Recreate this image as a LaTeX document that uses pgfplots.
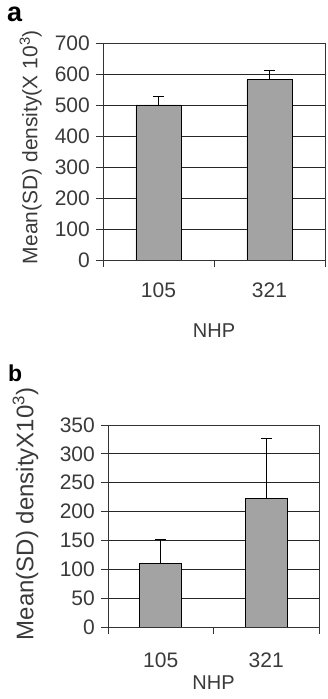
\documentclass[border=0pt]{standalone}
\usepackage{fontspec}
\setmainfont{Liberation Sans}
\usepackage{pgfplots}
\pgfplotsset{compat=1.18}
\definecolor{barfill}{HTML}{A3A3A3}
\definecolor{txt}{HTML}{3A3A3A}
\pgfplotsset{
  excelbar/.style={
    scale only axis,
    anchor=south west,
    xmin=0.5, xmax=2.5,
    xtick={0.5,1.5,2.5}, xticklabels={},
    extra x ticks={1,2}, extra x tick labels={105,321},
    extra x tick style={major tick length=0pt},
    tick align=outside,
    xtick pos=left, ytick pos=left,
    major tick length=7pt,
    ymajorgrids,
    grid style={black!85, line width=0.8pt},
    axis line style={black!80, line width=0.8pt},
    tick style={black!80, line width=0.8pt},
    ticklabel style={font=\fontsize{21}{21}\selectfont, text=txt},
    yticklabel style={inner sep=0pt, xshift=-6pt},
    xticklabel style={inner sep=0pt},
    /pgf/number format/assume math mode=true,
    label style={text=txt},
  },
  barplot/.style={ybar, bar shift=0pt, fill=barfill, draw=black, line width=0.8pt,
    error bars/y dir=plus, error bars/y explicit,
    error bars/error bar style={black, line width=0.8pt},
    error bars/error mark options={rotate=90, mark size=5.5pt, line width=0.8pt}},
}
\begin{document}
\begin{tikzpicture}[x=1pt,y=1pt]
% panel a
\begin{axis}[excelbar,
  at={(103pt,439pt)}, width=222pt, height=217pt,
  ymin=0, ymax=700, ytick={0,100,...,700},
  xticklabel style={yshift=-23pt},
  xlabel={NHP},
  xlabel style={font=\fontsize{20}{20}\selectfont, at={(axis description cs:0.5,0)}, anchor=base, yshift=-78pt},
  ylabel={Mean(SD) density(X 10\textsuperscript{3})},
  ylabel style={font=\fontsize{21}{21}\selectfont, at={(axis description cs:-0.296,0.52)}, anchor=base, rotate=0},
]
\addplot[barplot, bar width=45pt] coordinates {(1,500) +- (0,28) (2,582) +- (0,30)};
\end{axis}
% panel b
\begin{axis}[excelbar,
  at={(108pt,72pt)}, width=211pt, height=202pt,
  ymin=0, ymax=350, ytick={0,50,...,350},
  xticklabel style={yshift=-26pt},
  xlabel={NHP},
  xlabel style={font=\fontsize{20}{20}\selectfont, at={(axis description cs:0.5,0)}, anchor=base, yshift=-63pt},
  ylabel={Mean(SD) densityX10\textsuperscript{3})},
  ylabel style={font=\fontsize{24}{24}\selectfont, at={(axis description cs:-0.354,0.56)}, anchor=base, rotate=0},
]
\addplot[barplot, bar width=42pt] coordinates {(1,110) +- (0,41) (2,223) +- (0,103)};
\end{axis}
\node[anchor=base west, inner sep=0pt, font=\bfseries\fontsize{27}{27}\selectfont] at (7pt,677pt) {a};
\node[anchor=base west, inner sep=0pt, font=\bfseries\fontsize{23}{23}\selectfont] at (8pt,317pt) {b};
\pgfresetboundingbox
\useasboundingbox (0,0) rectangle (328pt,699pt);
\end{tikzpicture}
\end{document}
